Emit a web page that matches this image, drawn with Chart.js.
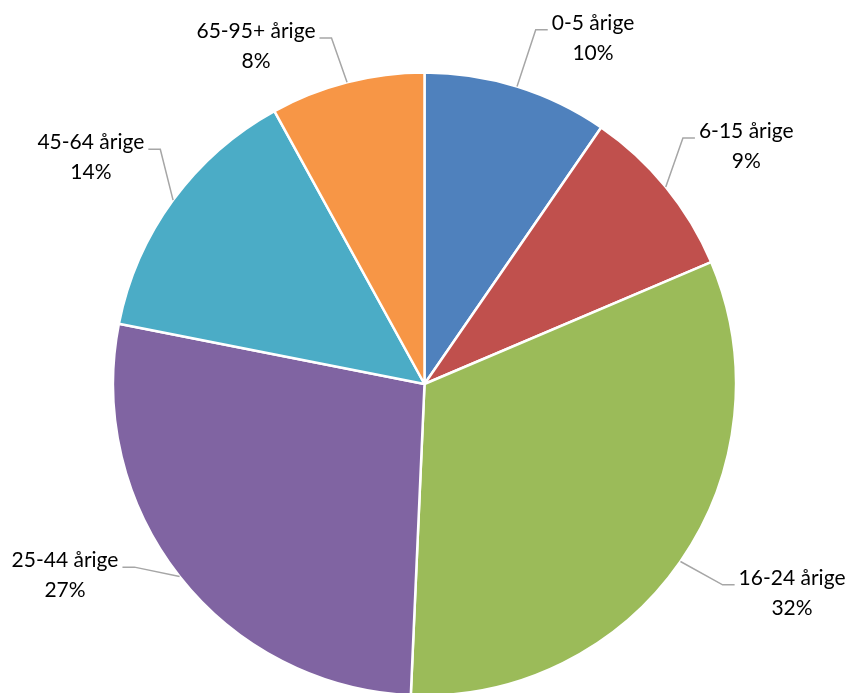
<!DOCTYPE html>
<html>
<head>
<meta charset="utf-8">
<script src="https://cdn.jsdelivr.net/npm/chart.js@4/dist/chart.umd.min.js"></script>
<style>
  html, body { margin: 0; padding: 0; background: #ffffff; overflow: hidden; }
  #wrap { width: 853px; height: 693px; position: relative; }
</style>
</head>
<body>
<div id="wrap"><canvas id="c" width="853" height="693"></canvas></div>
<script>
// ---- data ----
const categories = ["0-5 årige", "6-15 årige", "16-24 årige", "25-44 årige", "45-64 årige", "65-95+ årige"];
const shares = [9.6, 9.0, 32.1, 27.4, 13.9, 8.0];
const sliceColors = ["#4F81BD", "#C0504D", "#9BBB59", "#8064A2", "#4BACC6", "#F79646"];

// ---- label layout (polar position of each label block: degrees clockwise from top, distance in radii) ----
const labelAngleDeg = [25.95, 53.5, 119.6, 242.0, 304.2, 333.5];
const labelDistFactor = [1.236, 1.285, 1.357, 1.307, 1.295, 1.2125];

const FONT = '21px Lato, "Open Sans", sans-serif';

const total = shares.reduce((a, b) => a + b, 0);

const labelPlugin = {
  id: 'outLabels',
  afterDatasetsDraw(chart) {
    const ctx = chart.ctx;
    const meta = chart.getDatasetMeta(0);
    ctx.save();
    ctx.font = FONT;
    meta.data.forEach((arc, i) => {
      const p = arc.getProps(['x', 'y', 'startAngle', 'endAngle', 'outerRadius'], true);
      const mid = (p.startAngle + p.endAngle) / 2;
      const r = p.outerRadius;
      const ex = p.x + Math.cos(mid) * r;
      const ey = p.y + Math.sin(mid) * r;
      const la = (labelAngleDeg[i] - 90) * Math.PI / 180;
      const cx = p.x + Math.cos(la) * r * labelDistFactor[i];
      const cy = p.y + Math.sin(la) * r * labelDistFactor[i];
      const line1 = categories[i];
      const line2 = Math.round(shares[i] / total * 100) + '%';
      const y1 = cy - 15, y2 = cy + 15;
      const w1 = ctx.measureText(line1).width;
      const side = cx > p.x ? 1 : -1;
      const hEnd = cx - side * (w1 / 2 + 4);
      const hStart = hEnd - side * 12;
      const hy = y1 + 7;
      ctx.strokeStyle = '#A6A6A6';
      ctx.lineWidth = 1.5;
      ctx.beginPath();
      ctx.moveTo(ex, ey);
      ctx.lineTo(hStart, hy);
      ctx.lineTo(hEnd, hy);
      ctx.stroke();
      ctx.fillStyle = '#000000';
      ctx.textAlign = 'center';
      ctx.textBaseline = 'middle';
      ctx.fillText(line1, cx, y1);
      ctx.fillText(line2, cx, y2);
    });
    ctx.restore();
  }
};

new Chart(document.getElementById('c'), {
  type: 'pie',
  data: {
    labels: categories,
    datasets: [{
      data: shares,
      backgroundColor: sliceColors,
      borderColor: '#ffffff',
      borderWidth: 2.5,
      clip: false
    }]
  },
  options: {
    responsive: false,
    animation: false,
    events: [],
    radius: 311.5,
    layout: { padding: { left: 100, right: 104, top: 75, bottom: 0 } },
    plugins: {
      legend: { display: false },
      tooltip: { enabled: false }
    }
  },
  plugins: [labelPlugin]
});
</script>
</body>
</html>
